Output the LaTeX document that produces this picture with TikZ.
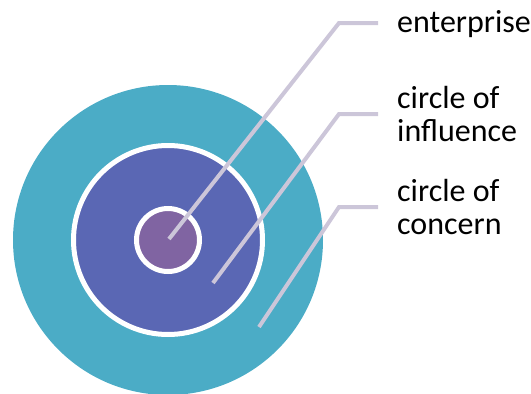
\documentclass[tikz,border=0pt]{standalone}
\usepackage{fontspec}
\setmainfont{Carlito}
\usepackage{xcolor}
\usepackage{tikz}
\usetikzlibrary{arrows.meta}

\definecolor{concerncol}{HTML}{4BACC6}
\definecolor{influencecol}{HTML}{5A67B4}
\definecolor{enterprisecol}{HTML}{8064A2}
\definecolor{leadercol}{HTML}{CCC6D9}

\begin{document}
\begin{tikzpicture}[x=1pt,y=-1pt]
\tikzstyle{ring} =[circle, draw = white, line width=5pt, inner sep=0pt]
\tikzstyle{leader} =[draw = leadercol, line width=4pt, line cap=butt, line join=miter]
\tikzstyle{label} =[anchor=west, inner sep=0pt, align=left, font=\fontsize{32}{33}\selectfont]

\useasboundingbox (0,0) rectangle (531,394);

\node[circle, fill = concerncol, inner sep=0pt, minimum size=310pt](concern) at (168,240){};
\node[ring, fill = influencecol, minimum size=189pt](influence) at (168,240){};
\node[ring, fill = enterprisecol, minimum size=63pt](enterprise) at (168,240){};

\coordinate (a1) at (169,239);
\coordinate (b1) at (339,23);
\coordinate (c1) at (378,23);
\coordinate (a2) at (213,283);
\coordinate (b2) at (339,114);
\coordinate (c2) at (378,114);
\coordinate (a3) at (259,327);
\coordinate (b3) at (339,207);
\coordinate (c3) at (378,207);

\draw[leader] (a1) -- (b1) -- (c1);
\draw[leader] (a2) -- (b2) -- (c2);
\draw[leader] (a3) -- (b3) -- (c3);

\node[label](t1) at (397,24){enterprise};
\node[label](t2) at (397,114){circle of\\influence};
\node[label](t3) at (397,207){circle of\\concern};
\end{tikzpicture}
\end{document}
